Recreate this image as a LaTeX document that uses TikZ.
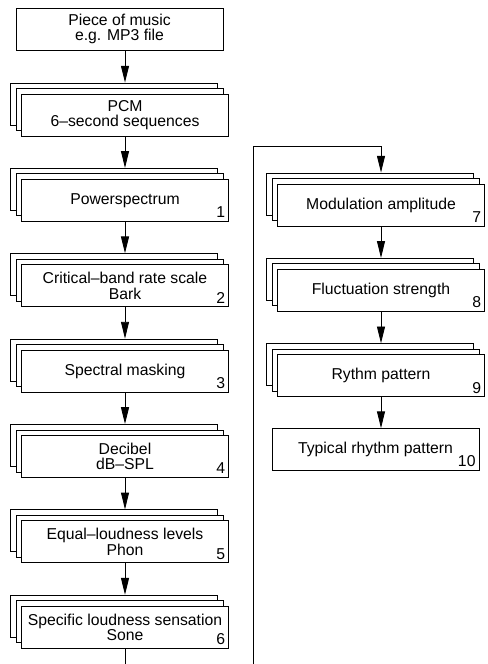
\documentclass[tikz,border=0pt]{standalone}
\usepackage{fontspec}
\setmainfont{Liberation Sans}
\usepackage{tikz}
\usetikzlibrary{arrows.meta,positioning,shadows}

\begin{document}
\begin{tikzpicture}[x=0.025cm, y=-0.025cm, line width=0.6pt,
    node distance={10.625mm},
    >={Stealth[length=4.2mm, width=2mm, inset=0pt]},
    box/.style = {draw, fill=white, minimum width=5.175cm, minimum height=1.05cm,
        inner sep=0pt, align=center, font=\fontsize{11.2pt}{11pt}\selectfont},
    stack/.style = {box, double copy shadow={shadow xshift=-0.1375cm, shadow yshift=0.1375cm}},
    num/.style = {label={[anchor=south east, inner sep=2.5pt, font=\fontsize{11.2pt}{11pt}\selectfont]south east:#1}}]
    \useasboundingbox (0,0) rectangle (487,664);

    % Left column
    \node[stack] (pcm) at (125,115) {PCM\\6--second sequences};
    \node[box] (piece) [above=10.75mm of pcm, xshift=-1.375mm] {Piece of music\\e.g. MP3 file};
    \node[stack, num=1] (ps) [below=of pcm] {Powerspectrum};
    \node[stack, num=2] (cb) [below=of ps] {Critical--band rate scale\\Bark};
    \node[stack, num=3] (sm) [below=of cb] {Spectral masking};
    \node[stack, num=4] (db) [below=of sm] {Decibel\\dB--SPL};
    \node[stack, num=5] (el) [below=of db] {Equal--loudness levels\\Phon};
    \node[stack, num=6] (sl) [below=of el] {Specific loudness sensation\\Sone};

    % Right column
    \node[stack, num=7] (mod) at (381,205) {Modulation amplitude};
    \node[stack, num=8] (fs) [below=of mod] {Fluctuation strength};
    \node[stack, num=9] (rp) [below=of fs] {Rythm pattern};
    \node[box, num=10] (typ) [below=7.75mm of rp, xshift=-1.375mm] {Typical rhythm pattern};

    \coordinate (bot) at (253,664);
    \coordinate (top) at (253,146);

    % Lines
    \draw[->] (piece.south -| pcm) -- ([yshift=2.75mm]pcm.north);
    \foreach \a/\b in {pcm/ps, ps/cb, cb/sm, sm/db, db/el, el/sl, mod/fs, fs/rp}
        \draw[->] (\a.south) -- ([yshift=2.75mm]\b.north);
    \draw[->] (rp.south) -- (rp.south |- typ.north);

    % Feedback
    \draw (sl.south) -- (sl.south |- bot);
    \draw[->] (bot) -- (top) -| ([yshift=2.75mm]mod.north);
\end{tikzpicture}
\end{document}
